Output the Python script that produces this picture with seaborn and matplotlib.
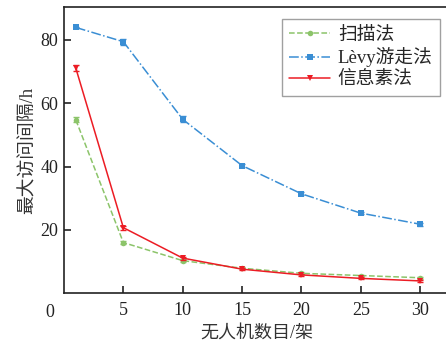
import numpy as np
import pandas as pd
import matplotlib
matplotlib.use("Agg")
import matplotlib.pyplot as plt
import seaborn as sns

# 数据
uav_count = [1, 5, 10, 15, 20, 25, 30]
scan = [54.7, 16.0, 10.3, 7.9, 6.3, 5.6, 4.9]
levy = [83.9, 79.4, 54.9, 40.3, 31.4, 25.3, 21.8]
pheromone = [71.0, 20.7, 11.1, 7.6, 5.8, 4.7, 3.9]
scan_err = [0.8, 0.6, 0.4, 0.3, 0.3, 0.3, 0.3]
levy_err = [0.3, 0.9, 0.9, 0.6, 0.5, 0.4, 0.5]
pheromone_err = [0.9, 0.6, 0.5, 0.4, 0.3, 0.3, 0.3]
series_names = ["扫描法", "Lèvy游走法", "信息素法"]
x_ticks = [5, 10, 15, 20, 25, 30]
y_ticks = [20, 40, 60, 80]

sns.set_style("ticks")
plt.rcParams['font.family'] = ['Liberation Serif', 'Noto Sans CJK SC']
plt.rcParams['axes.unicode_minus'] = False

fig = plt.figure(figsize=(4.46, 3.43), dpi=100)
ax = fig.add_axes([0.1435, 0.145, 0.865, 0.835])

styles = [
    dict(color='#8cc46a', ls='--', marker='o', ms=4),
    dict(color='#3a8ed4', ls='-.', marker='s', ms=4),
    dict(color='#ec1c24', ls='-', marker='v', ms=5),
]
ys = [scan, levy, pheromone]
errs = [scan_err, levy_err, pheromone_err]

for name, y, e, st in zip(series_names, ys, errs, styles):
    df = pd.DataFrame({'x': uav_count, 'y': y})
    sns.lineplot(data=df, x='x', y='y', ax=ax, color=st['color'], linestyle=st['ls'],
                 marker=st['marker'], markersize=st['ms'], markeredgewidth=0,
                 linewidth=1.1, label=name)
    ax.errorbar(uav_count, y, yerr=e, fmt='none', ecolor=st['color'],
                elinewidth=1.0, capsize=2.5, capthick=1.0)

ax.set_xlim(0, 32.5)
ax.set_ylim(0, 90.4)
ax.set_xticks(x_ticks)
ax.set_yticks(y_ticks)
ax.tick_params(direction='in', length=5, width=1.2, labelsize=13, colors='#222222')
ax.tick_params(axis='y', pad=4)
ax.tick_params(axis='x', pad=6)
for s in ['left', 'bottom', 'top']:
    ax.spines[s].set_linewidth(1.2)
    ax.spines[s].set_color('#222222')

# 原点处的 "0"
ax.annotate('0', xy=(0, 0), xycoords='data', xytext=(-7, -8),
            textcoords='offset points', ha='right', va='top', fontsize=13,
            color='#222222')

ax.set_xlabel('无人机数目/架', fontsize=13, labelpad=5, color='#333333')
ax.set_ylabel('最大访问间隔/h', fontsize=13.5, labelpad=3, color='#333333')

leg = ax.legend(loc='upper right', bbox_to_anchor=(0.975, 0.958), fontsize=13.5,
                handlelength=2.2, frameon=True, fancybox=False, borderpad=0.4,
                labelspacing=0.2, handletextpad=0.4, borderaxespad=0)
leg.get_frame().set_edgecolor('#888888')
leg.get_frame().set_linewidth(1.0)

fig.savefig('out.png', dpi=100)
